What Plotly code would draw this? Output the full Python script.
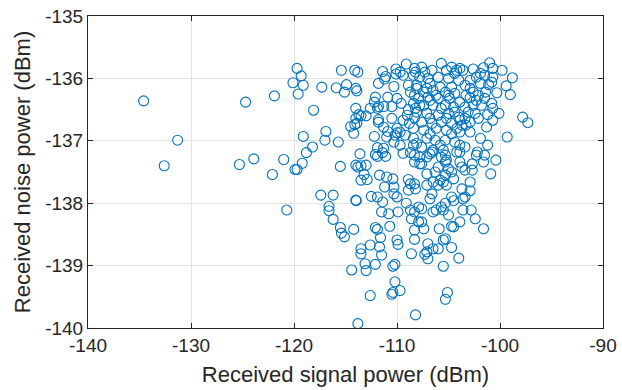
import plotly.graph_objects as go

signal_dbm = [
    -134.6, -131.3, -132.6, -124.7, -121.9, -120.1, -119.7, -119.6, -125.3, -123.9, -121.0, -122.1, -119.9, -120.7,
    -119.3, -119.1, -118.1, -115.4, -114.1, -113.8, -117.3, -115.9, -114.9, -115.1, -114.0, -113.9,
    -111.4, -111.1, -110.1, -110.1, -109.1, -108.2, -111.8, -111.2, -110.3, -108.9, -108.7, -108.1, -108.3,
    -112.1, -112.2, -110.9, -111.8, -111.9, -112.6, -111.3, -110.5, -109.6, -108.9, -109.0, -108.8, -108.3, -108.2,
    -114.0, -113.7, -113.5, -114.0, -114.1, -114.5, -113.9, -114.2, -113.0, -110.5, -111.8, -111.8, -110.0, -110.0,
    -110.2, -110.9, -112.2, -110.3, -116.9, -117.0, -119.1, -118.2, -115.7, -118.8, -113.6, -111.9, -111.4, -109.7,
    -108.4, -108.7,
    -119.2, -119.7, -115.5, -112.1, -111.9, -111.1, -114.0, -113.5, -113.0, -113.8, -113.2, -113.5, -112.9, -111.7,
    -111.0, -110.4, -111.2, -110.3, -110.3, -110.0, -108.9, -108.7, -108.9, -108.2, -109.4, -108.3, -107.8, -117.4,
    -116.2, -114.0, -113.95, -112.5, -111.9, -111.4, -116.6, -116.6, -116.2, -115.5, -115.4, -115.1, -114.2, -112.1,
    -111.9, -111.6, -110.7, -111.5, -110.8, -109.9, -109.1, -108.7, -108.6, -107.9, -113.5, -112.6, -111.7, -110.0,
    -109.9, -108.3,
    -113.5, -111.5, -108.6, -113.1, -112.1, -114.4, -113.0, -110.4, -110.2, -110.2, -109.7, -110.4, -110.5, -112.6,
    -108.2, -113.8,
    -107.0, -105.5, -104.7, -106.0, -104.0, -107.1, -107.3, -107.0, -105.5, -105.1, -105.3,
    -108.3, -107.6, -106.8, -106.5, -105.7, -105.2, -105.3, -103.9, -103.7, -103.4, -102.7, -102.7, -102.3, -101.5,
    -101.6, -100.4, -100.9, -107.1, -106.3, -105.3, -104.7, -104.5, -105.5, -106.0, -106.5, -107.1, -108.3, -106.6,
    -106.8, -105.2, -105.8, -102.9, -103.7, -102.9, -103.4, -103.6, -104.7, -104.5, -105.3, -105.7, -106.2, -106.5,
    -105.5, -105.0, -107.9, -107.6, -108.3, -103.6, -102.8, -102.4, -103.9, -104.7, -104.5, -105.9, -107.6, -107.4,
    -108.3, -101.6, -105.3, -106.5,
    -98.8, -99.4, -99.0, -100.3, -97.8, -97.3, -99.3, -101.2, -100.1,
    -101.0, -99.8, -100.7, -101.6, -102.6, -103.6, -101.5, -100.7, -102.3, -102.9, -101.1, -101.9, -103.4, -102.9,
    -101.4, -102.1, -103.3, -101.5, -102.3, -102.9, -100.8, -102.6, -103.4, -103.1, -102.4, -103.4, -102.9, -103.3,
    -108.3, -107.6, -106.6, -105.7, -104.7, -104.2, -103.9, -108.4, -107.8, -107.0, -106.0, -105.0, -104.0, -108.1,
    -106.8, -105.8, -104.7, -107.4, -106.5, -105.3, -104.4, -110.0, -107.9, -107.0, -106.8, -106.0, -104.9, -103.9,
    -108.4, -107.4, -106.5, -105.3, -104.5, -108.1, -107.1, -106.0, -105.0, -104.0, -109.4, -107.6, -106.6, -105.7,
    -104.7, -103.7, -111.3,
    -108.4, -107.4, -106.2, -105.2, -104.2, -111.0, -109.2, -108.4, -107.1, -106.3, -105.3, -104.4, -111.3, -107.6,
    -106.6, -105.5, -104.2, -103.9, -107.8, -106.0, -105.0,
    -101.9, -101.2, -102.2, -103.4, -102.9, -103.9, -101.3, -100.7,
    -109.7, -109.4, -107.3, -105.2, -104.4, -107.1, -106.2, -105.0, -107.8, -105.7, -104.4, -106.8, -105.2, -103.9,
    -101.9, -100.8, -102.6, -101.8, -100.7, -102.1,
    -109.7, -106.8, -104.7, -108.1, -105.8, -107.1, -105.3, -103.9,
]

noise_dbm = [
    -136.36, -136.99, -137.40, -136.38, -136.28, -136.07, -135.84, -136.25, -137.38, -137.29, -137.30, -137.54, -137.46, -138.11,
    -135.96, -136.11, -136.51, -135.87, -135.87, -135.90, -136.14, -136.15, -136.10, -136.22, -136.16, -136.20,
    -135.89, -135.97, -135.85, -135.93, -135.77, -135.90, -136.08, -136.01, -136.13, -136.11, -136.22, -136.16, -136.27,
    -136.30, -136.38, -136.30, -136.45, -136.48, -136.48, -136.45, -136.45, -136.40, -136.50, -136.59, -136.72, -136.63, -136.48,
    -136.48, -136.58, -136.60, -136.64, -136.74, -136.77, -136.72, -136.88, -136.60, -136.64, -136.66, -136.70, -136.80, -136.87,
    -136.91, -136.85, -136.93, -137.02, -136.85, -136.99, -136.93, -137.10, -137.02, -137.19, -137.21, -137.11, -137.19, -137.07,
    -137.07, -137.19,
    -137.36, -137.46, -137.41, -137.22, -137.25, -137.25, -137.39, -137.40, -137.39, -137.42, -137.54, -137.63, -137.62, -137.55,
    -137.58, -137.61, -137.74, -137.74, -137.85, -137.90, -137.62, -137.69, -137.79, -137.77, -137.20, -137.34, -137.26, -137.87,
    -137.87, -137.95, -137.96, -137.89, -137.90, -137.98, -138.05, -138.12, -138.26, -138.39, -138.48, -138.54, -138.42, -138.39,
    -138.42, -138.55, -138.37, -138.14, -138.17, -138.14, -138.00, -138.11, -138.25, -138.30, -138.73, -138.67, -138.70, -138.59,
    -138.66, -138.58,
    -138.81, -138.83, -138.81, -138.97, -138.98, -139.07, -139.08, -139.01, -138.98, -139.26, -139.40, -139.43, -139.46, -139.48,
    -139.79, -139.93,
    -138.65, -138.59, -138.71, -138.73, -138.88, -138.78, -138.82, -138.89, -139.01, -139.43, -139.54,
    -137.23, -137.37, -137.21, -137.15, -137.26, -137.31, -137.23, -137.18, -137.42, -137.47, -137.47, -137.37, -137.23, -137.23,
    -137.34, -137.31, -137.53, -137.53, -137.50, -137.55, -137.50, -137.61, -137.66, -137.71, -137.66, -137.71, -137.69, -137.85,
    -137.93, -137.71, -137.63, -137.66, -137.77, -137.80, -137.90, -137.93, -137.90, -137.96, -138.00, -138.06, -138.11, -138.14,
    -138.11, -138.19, -138.06, -138.09, -138.14, -138.11, -138.11, -138.25, -138.30, -138.37, -138.38, -138.41, -138.30, -138.41,
    -138.43, -138.41, -138.57, -138.73,
    -135.99, -136.12, -136.26, -136.23, -136.62, -136.71, -136.94, -136.58, -136.56,
    -135.75, -135.87, -135.84, -135.83, -135.85, -135.87, -135.95, -135.98, -135.98, -136.03, -136.10, -136.08, -136.11, -136.16,
    -136.22, -136.27, -136.27, -136.32, -136.35, -136.31, -136.40, -136.43, -136.46, -136.54, -136.56, -136.64, -136.70, -136.75,
    -135.84, -135.82, -135.87, -135.76, -135.82, -135.87, -135.84, -135.95, -135.98, -136.00, -135.98, -136.00, -136.03, -136.11,
    -136.08, -136.14, -136.14, -136.22, -136.19, -136.22, -136.24, -136.32, -136.32, -136.30, -136.35, -136.32, -136.32, -136.38,
    -136.40, -136.43, -136.43, -136.43, -136.46, -136.54, -136.56, -136.59, -136.56, -136.62, -136.67, -136.70, -136.72, -136.70,
    -136.72, -136.75, -136.78,
    -136.80, -136.83, -136.80, -136.83, -136.80, -136.94, -136.91, -136.96, -136.96, -136.99, -136.99, -137.02, -137.12, -137.10,
    -137.18, -137.15, -137.18, -137.07, -137.37, -137.42, -137.45,
    -136.96, -137.07, -137.18, -137.10, -136.86, -136.86, -136.78, -136.67,
    -135.90, -135.95, -135.90, -135.87, -135.92, -136.16, -136.27, -136.27, -136.43, -136.48, -136.54, -136.64, -136.64, -136.67,
    -135.92, -136.06, -136.22, -136.43, -136.48, -136.64,
    -136.86, -136.89, -136.89, -137.04, -137.07, -137.26, -137.34, -137.34,
]

x_ticks = [-140, -130, -120, -110, -100, -90]
y_ticks = [-140, -139, -138, -137, -136, -135]

axis_color = "#262626"
font_family = "Liberation Sans, Arial, sans-serif"

fig = go.Figure(
    go.Scatter(
        x=signal_dbm,
        y=noise_dbm,
        mode="markers",
        marker=dict(symbol="circle-open", size=10, color="#0072BD", line=dict(width=1.1, color="#0072BD")),
        showlegend=False,
        hoverinfo="x+y",
    )
)

common_axis = dict(
    showline=True,
    linecolor=axis_color,
    linewidth=1,
    mirror="ticks",
    ticks="inside",
    ticklen=5,
    tickcolor=axis_color,
    showgrid=True,
    gridcolor="#e3e3e3",
    gridwidth=1,
    zeroline=False,
    automargin=False,
    ticklabeloverflow="allow",
    tickfont=dict(family=font_family, size=19, color=axis_color),
)

fig.update_layout(
    width=622,
    height=390,
    margin=dict(l=88, r=19, t=16, b=62),
    paper_bgcolor="white",
    plot_bgcolor="white",
    font=dict(family=font_family, color=axis_color),
    xaxis=dict(
        range=[-140, -90],
        tickvals=x_ticks,
        ticktext=[str(v) for v in x_ticks],
        title=dict(text="Received signal power (dBm)", font=dict(family=font_family, size=22, color=axis_color), standoff=11),
        **common_axis,
    ),
    yaxis=dict(
        range=[-140, -135],
        tickvals=y_ticks,
        ticktext=[str(v) for v in y_ticks],
        title=dict(text="Received noise power (dBm)", font=dict(family=font_family, size=22, color=axis_color), standoff=8),
        **common_axis,
    ),
)

fig.write_html(
    "out.html",
    config={"displayModeBar": False},
    post_script="document.body.style.margin='0';document.body.style.overflow='hidden';",
)
